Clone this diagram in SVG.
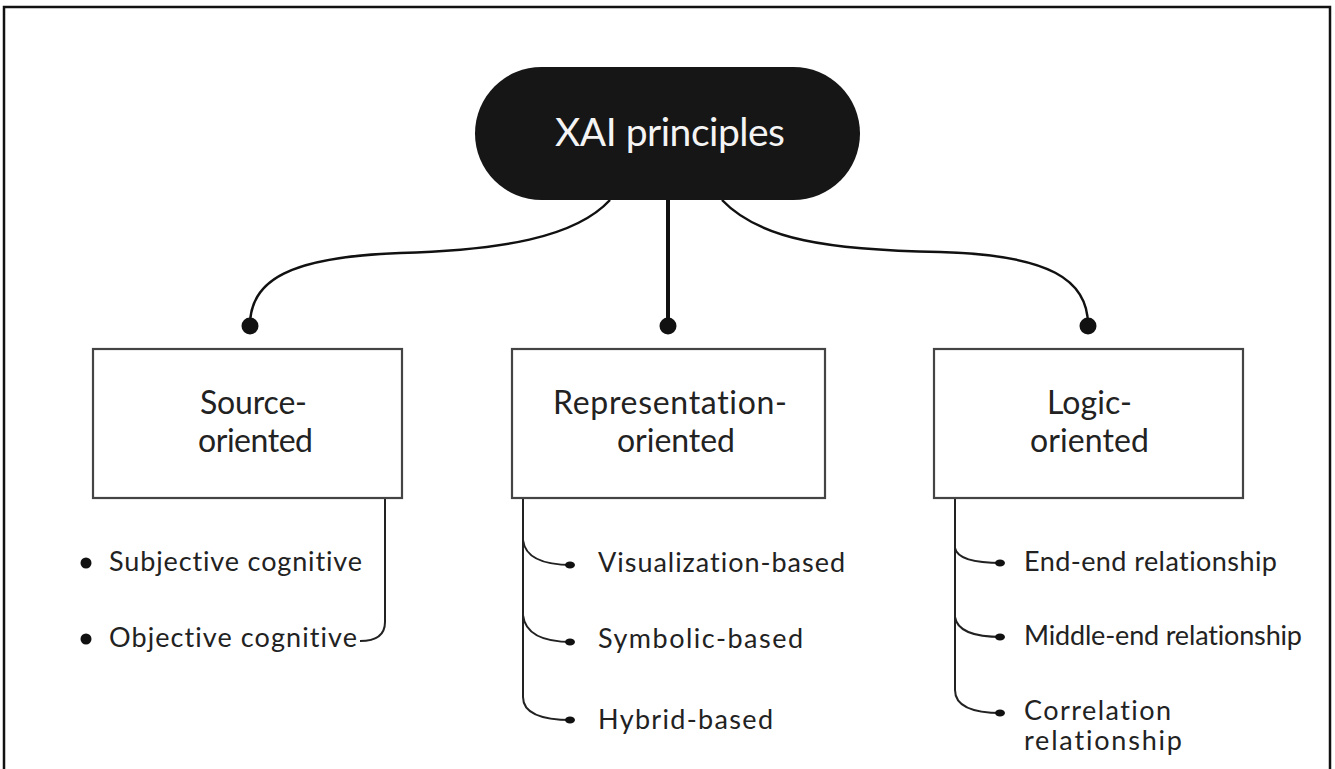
<svg xmlns="http://www.w3.org/2000/svg" width="1335" height="769" viewBox="0 0 1335 769">
  <style>
    text { font-family: Lato, "Liberation Sans", sans-serif; font-variant-ligatures: none; }
    .frame { fill: none; stroke: #111; stroke-width: 2.5; }
    .box { fill: #fff; stroke: #444; stroke-width: 2.2; }
    .pill { fill: #161616; }
    .title { font-size: 39px; fill: #f4f4f4; }
    .label { font-size: 32px; fill: #222; }
    .item { font-size: 27px; fill: #222; }
    .link { fill: none; stroke: #111; stroke-width: 2.5; }
    .stem { fill: none; stroke: #111; stroke-width: 4; }
    .branch { fill: none; stroke: #222; stroke-width: 2; }
    .dot { fill: #111; }
  </style>

  <!-- outer frame -->
  <rect class="frame" x="4" y="7" width="1326" height="780"/>

  <!-- connectors -->
  <g id="connectors">
    <path class="link" d="M610,200 C575,238 500,250 400,253 C290,257 250,280 250,325"/>
    <line class="stem" x1="668" y1="200" x2="668" y2="325"/>
    <path class="link" d="M722,200 C760,240 830,250 940,252 C1050,255 1088,280 1088,325"/>
    <circle class="dot" cx="250" cy="326" r="8.5"/>
    <circle class="dot" cx="668" cy="326" r="8.5"/>
    <circle class="dot" cx="1088" cy="326" r="8.5"/>

    <!-- source-oriented list -->
    <path class="branch" d="M385,498 L385,622 Q385,641 360,641"/>

    <!-- representation-oriented list -->
    <path class="branch" d="M523,498 L523,697 Q523,720 572,720"/>
    <path class="branch" d="M523,540 Q526,565 572,565"/>
    <path class="branch" d="M523,615 Q526,642 572,642"/>
    <ellipse class="dot" cx="570" cy="565" rx="5" ry="3.5"/>
    <ellipse class="dot" cx="570" cy="642" rx="5" ry="3.5"/>
    <ellipse class="dot" cx="570" cy="720" rx="5" ry="3.5"/>

    <!-- logic-oriented list -->
    <path class="branch" d="M955,498 L955,690 Q955,713 1002,713"/>
    <path class="branch" d="M955,548 Q958,563 1002,563"/>
    <path class="branch" d="M955,617 Q958,637 1002,637"/>
    <ellipse class="dot" cx="1000" cy="563" rx="5" ry="3.5"/>
    <ellipse class="dot" cx="1000" cy="637" rx="5" ry="3.5"/>
    <ellipse class="dot" cx="1000" cy="713" rx="5" ry="3.5"/>
  </g>

  <!-- root -->
  <g id="xai-principles">
    <rect class="pill" x="475" y="67" width="385" height="133" rx="66.5"/>
    <text class="title" x="555" y="146" textLength="230">XAI principles</text>
  </g>

  <g id="source-oriented">
    <rect class="box" x="93" y="349" width="309" height="149"/>
    <text class="label" x="200" y="414" textLength="107">Source-</text>
    <text class="label" x="198" y="452" textLength="115">oriented</text>
  </g>

  <g id="representation-oriented">
    <rect class="box" x="512" y="349" width="313" height="149"/>
    <text class="label" x="553" y="414" textLength="234">Representation-</text>
    <text class="label" x="617" y="452" textLength="118">oriented</text>
  </g>

  <g id="logic-oriented">
    <rect class="box" x="934" y="349" width="309" height="149"/>
    <text class="label" x="1047" y="414" textLength="85">Logic-</text>
    <text class="label" x="1030" y="452" textLength="119">oriented</text>
  </g>

  <g id="source-items">
    <circle class="dot" cx="86" cy="563" r="5.5"/>
    <text class="item" x="109" y="571" textLength="253">Subjective cognitive</text>
    <circle class="dot" cx="86" cy="639" r="5.5"/>
    <text class="item" x="109" y="647" textLength="248">Objective cognitive</text>
  </g>

  <g id="representation-items">
    <text class="item" x="598" y="572" textLength="247">Visualization-based</text>
    <text class="item" x="598" y="648" textLength="205">Symbolic-based</text>
    <text class="item" x="598" y="729" textLength="175">Hybrid-based</text>
  </g>

  <g id="logic-items">
    <text class="item" x="1024" y="571" textLength="253">End-end relationship</text>
    <text class="item" x="1024" y="645" textLength="278">Middle-end relationship</text>
    <text class="item" x="1024" y="720" textLength="147">Correlation</text>
    <text class="item" x="1024" y="750" textLength="158">relationship</text>
  </g>
</svg>
